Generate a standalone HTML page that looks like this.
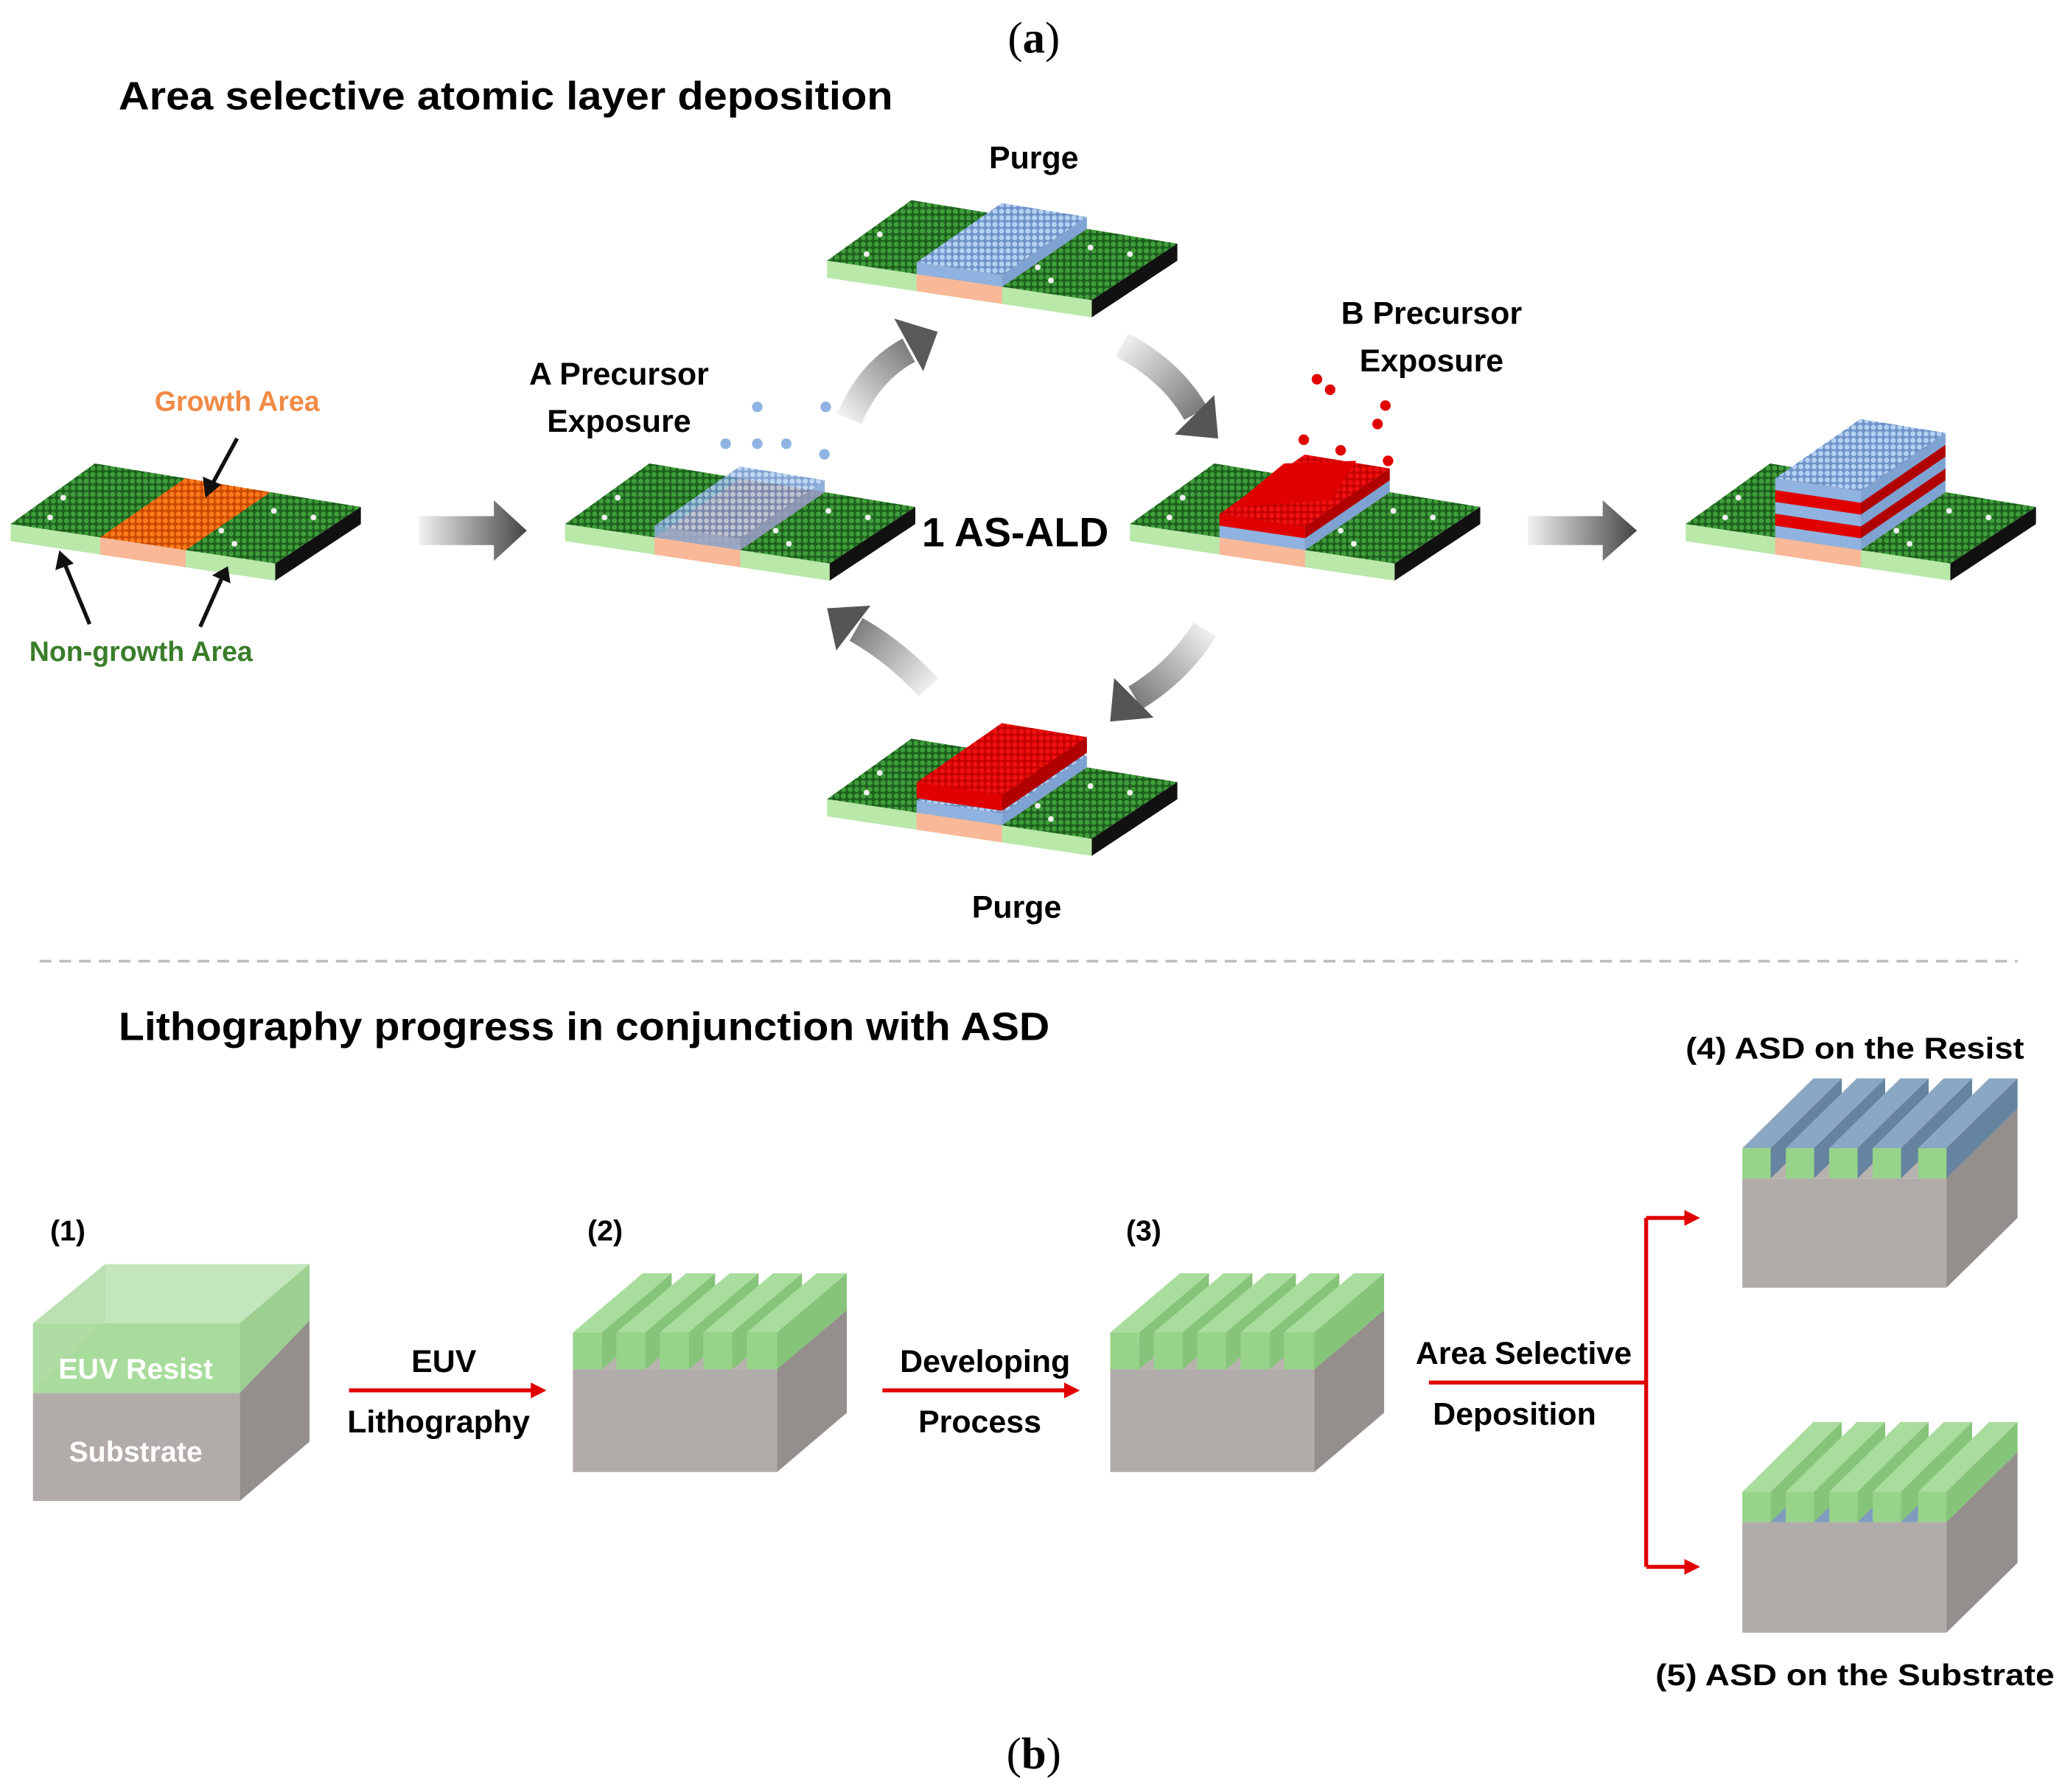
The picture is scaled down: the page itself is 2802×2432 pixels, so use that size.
<!DOCTYPE html>
<html><head><meta charset="utf-8">
<style>
html,body{margin:0;padding:0;background:#fff;}
svg{display:block;}
text{font-family:"Liberation Sans",sans-serif;font-weight:bold;}
</style></head>
<body>
<svg width="2802" height="2432" viewBox="0 0 1568 1361" xmlns="http://www.w3.org/2000/svg">
<defs>
 <pattern id="gr" width="5" height="5" patternUnits="userSpaceOnUse">
  <rect width="5" height="5" fill="#1d5f1d"/><circle cx="2.5" cy="2.5" r="2" fill="#3f9d3a"/>
 </pattern>
 <pattern id="or" width="5" height="5" patternUnits="userSpaceOnUse">
  <rect width="5" height="5" fill="#c94a00"/><circle cx="2.5" cy="2.5" r="2" fill="#ff7a1c"/>
 </pattern>
 <pattern id="bl" width="5" height="5" patternUnits="userSpaceOnUse">
  <rect width="5" height="5" fill="#6f93c8"/><circle cx="2.5" cy="2.5" r="2" fill="#b3d0f2"/>
 </pattern>
 <pattern id="rd" width="5" height="5" patternUnits="userSpaceOnUse">
  <rect width="5" height="5" fill="#c40000"/><circle cx="2.5" cy="2.5" r="2" fill="#f01010"/>
 </pattern>
 <g id="slab">
  <polygon points="0,0 64,-46 266,-13 201,30" fill="url(#gr)"/>
  <polygon points="68,10.2 133,19.8 197.3,-24.2 132.7,-34.8" fill="url(#or)"/>
  <polygon points="0,0 201,30 201,43 0,13" fill="#b9e8a9"/>
  <polygon points="68,10.2 133,19.8 133,32.8 68,23.2" fill="#f9b898"/>
  <polygon points="201,30 266,-13 266,0 201,43" fill="#111"/>
  <circle cx="40" cy="-20" r="2.2" fill="#eee"/><circle cx="30" cy="-5" r="2.2" fill="#eee"/>
  <circle cx="160" cy="5" r="2.2" fill="#eee"/><circle cx="200" cy="-10" r="2.2" fill="#eee"/>
  <circle cx="170" cy="15" r="2.2" fill="#eee"/><circle cx="230" cy="-5" r="2.2" fill="#eee"/>
 </g>
 <g id="layB">
  <polygon points="68,1.2 133,10.8 197.3,-33.2 132.7,-43.8" fill="url(#bl)"/>
  <polygon points="68,10.2 133,19.8 133,10.8 68,1.2" fill="#8fb2e0"/>
  <polygon points="133,19.8 197.3,-24.2 197.3,-33.2 133,10.8" fill="#7ea2d2"/>
 </g>
 <g id="layR">
  <polygon points="68,1.2 133,10.8 197.3,-33.2 132.7,-43.8" fill="url(#rd)"/>
  <polygon points="68,10.2 133,19.8 133,10.8 68,1.2" fill="#e00000"/>
  <polygon points="133,19.8 197.3,-24.2 197.3,-33.2 133,10.8" fill="#b00000"/>
 </g>
 <g id="rgG">
  <polygon points="0,0 54,-53 75.5,-53 21.5,0" fill="#a9dd9d"/>
  <polygon points="21.5,0 75.5,-53 75.5,-30 21.5,23" fill="#86c47a"/>
  <rect x="0" y="0" width="21.5" height="23" fill="#97d48a"/>
 </g>
 <g id="rgB">
  <polygon points="0,0 54,-53 75.5,-53 21.5,0" fill="#8aa7c4"/>
  <polygon points="21.5,0 75.5,-53 75.5,-30 21.5,23" fill="#66849f"/>
  <rect x="0" y="0" width="21.5" height="23" fill="#97d48a"/>
 </g>
 <linearGradient id="ga" x1="0" x2="1" y1="0" y2="0">
  <stop offset="0" stop-color="#f2f2f2"/><stop offset="1" stop-color="#444"/>
 </linearGradient>
 <linearGradient id="c1" gradientUnits="userSpaceOnUse" x1="645" y1="318" x2="712" y2="252"><stop offset="0" stop-color="#eee"/><stop offset="1" stop-color="#555"/></linearGradient>
 <linearGradient id="c2" gradientUnits="userSpaceOnUse" x1="852" y1="262" x2="925" y2="333"><stop offset="0" stop-color="#eee"/><stop offset="1" stop-color="#555"/></linearGradient>
 <linearGradient id="c3" gradientUnits="userSpaceOnUse" x1="915" y1="478" x2="843" y2="548"><stop offset="0" stop-color="#eee"/><stop offset="1" stop-color="#555"/></linearGradient>
 <linearGradient id="c4" gradientUnits="userSpaceOnUse" x1="705" y1="522" x2="628" y2="462"><stop offset="0" stop-color="#eee"/><stop offset="1" stop-color="#555"/></linearGradient>
</defs>

<text x="785" y="40" text-anchor="middle" style="font-family:'Liberation Serif',serif;font-weight:normal" font-size="34">(<tspan font-weight="bold">a</tspan>)</text>
<text x="90" y="83" font-size="30" textLength="588" lengthAdjust="spacingAndGlyphs">Area selective atomic layer deposition</text>

<use href="#slab" transform="translate(8,398)"/>
<use href="#slab" transform="translate(429,398)"/>
<use href="#layB" transform="translate(429,398)" opacity="0.85"/>
<use href="#slab" transform="translate(858,398)"/>
<use href="#layB" transform="translate(858,398)"/>
<use href="#layR" transform="translate(858,389)"/>
<polygon points="935,385 975,352 1030,350 1010,380" fill="#e00000"/>
<use href="#slab" transform="translate(1280,398)"/>
<use href="#layB" transform="translate(1280,398)"/>
<use href="#layR" transform="translate(1280,389)"/>
<use href="#layB" transform="translate(1280,380)"/>
<use href="#layR" transform="translate(1280,371)"/>
<use href="#layB" transform="translate(1280,362)"/>
<use href="#slab" transform="translate(628,198)"/>
<use href="#layB" transform="translate(628,198)"/>
<use href="#slab" transform="translate(628,607)"/>
<use href="#layB" transform="translate(628,607)"/>
<use href="#layR" transform="translate(628,596)"/>
<use href="#layR" transform="translate(628,593)"/>

<g fill="#8fb4e3">
<circle cx="575" cy="309" r="4"/><circle cx="627" cy="309" r="4"/>
<circle cx="551" cy="337" r="4"/><circle cx="575" cy="337" r="4"/><circle cx="597" cy="337" r="4"/><circle cx="626" cy="345" r="4"/>
</g>
<g fill="#e00000">
<circle cx="1000" cy="288" r="4"/><circle cx="1010" cy="296" r="4"/><circle cx="1052" cy="308" r="4"/>
<circle cx="1046" cy="322" r="4"/><circle cx="990" cy="334" r="4"/><circle cx="1018" cy="342" r="4"/><circle cx="1054" cy="350" r="4"/>
</g>

<polygon points="318,392 375,392 375,380 400,403 375,426 375,414 318,414" fill="url(#ga)"/>
<polygon points="1160,392 1217,392 1217,380 1243,403 1217,426 1217,414 1160,414" fill="url(#ga)"/>

<path d="M645,318 Q660,282 690,266" stroke="url(#c1)" stroke-width="20" fill="none"/>
<polygon points="712,252 701,282 679,242" fill="#5a5a5a"/>
<path d="M852,262 Q890,282 908,314" stroke="url(#c2)" stroke-width="20" fill="none"/>
<polygon points="925,333 922,300 892,330" fill="#555"/>
<path d="M915,478 Q895,510 862,530" stroke="url(#c3)" stroke-width="20" fill="none"/>
<polygon points="843,548 876,545 846,515" fill="#555"/>
<path d="M705,522 Q680,495 650,478" stroke="url(#c4)" stroke-width="20" fill="none"/>
<polygon points="628,462 661,460 635,494" fill="#555"/>

<text x="785" y="128" text-anchor="middle" font-size="24">Purge</text>
<text x="772" y="697" text-anchor="middle" font-size="24">Purge</text>
<text x="470" y="292" text-anchor="middle" font-size="24">A Precursor</text>
<text x="470" y="328" text-anchor="middle" font-size="24">Exposure</text>
<text x="1087" y="246" text-anchor="middle" font-size="24">B Precursor</text>
<text x="1087" y="282" text-anchor="middle" font-size="24">Exposure</text>
<text x="700" y="415" font-size="31">1 AS-ALD</text>
<text x="180" y="312" text-anchor="middle" font-size="21" fill="#f08a45">Growth Area</text>
<text x="107" y="502" text-anchor="middle" font-size="21" fill="#3a7d2a">Non-growth Area</text>
<g stroke="#111" stroke-width="3" fill="#111">
<line x1="180" y1="333" x2="161" y2="368"/><polygon points="156,378 154,362 168,368" stroke="none"/>
<line x1="68" y1="474" x2="49" y2="428"/><polygon points="45,418 42,433 56,428" stroke="none"/>
<line x1="152" y1="476" x2="168" y2="440"/><polygon points="173,430 161,437 175,443" stroke="none"/>
</g>

<line x1="30" y1="730" x2="1532" y2="730" stroke="#bdbdbd" stroke-width="2" stroke-dasharray="9,6"/>

<text x="90" y="790" font-size="30" textLength="707" lengthAdjust="spacingAndGlyphs">Lithography progress in conjunction with ASD</text>
<text x="38" y="942" font-size="22">(1)</text>
<text x="446" y="942" font-size="22">(2)</text>
<text x="855" y="942" font-size="22">(3)</text>
<text x="1280" y="804" font-size="23" textLength="257" lengthAdjust="spacingAndGlyphs">(4) ASD on the Resist</text>
<text x="1257" y="1280" font-size="23" textLength="303" lengthAdjust="spacingAndGlyphs">(5) ASD on the Substrate</text>

<!-- block 1 -->
<polygon points="25,1005 80,960 235,960 182,1005" fill="#c3e6bc"/>
<rect x="25" y="1005" width="157" height="53" fill="#a8dc9c"/>
<rect x="25" y="1058" width="157" height="82" fill="#b1aca9"/>
<polygon points="182,1005 235,960 235,1003 182,1058" fill="#9ccf90"/>
<polygon points="182,1058 235,1003 235,1095 182,1140" fill="#948f8c"/>
<polygon points="25,1005 80,960 80,1003 25,1058" fill="#b4dca9" opacity="0.5"/>
<text x="103" y="1047" text-anchor="middle" font-size="22" fill="#fff">EUV Resist</text>
<text x="103" y="1110" text-anchor="middle" font-size="22" fill="#fff">Substrate</text>

<!-- block 2 -->
<g id="blk">
<polygon points="435,1040 488,995 643,995 590,1040" fill="#b8b2ae"/>
<rect x="435" y="1040" width="155" height="78" fill="#b1aca9"/>
<polygon points="590,1040 643,995 643,1073 590,1118" fill="#948f8c"/>
</g>
<g id="rdg">
 <polygon points="435,1012 488,967 510,967 457,1012" fill="#a9dd9d"/><polygon points="457,1012 510,967 510,995 457,1040" fill="#86c47a"/><rect x="435" y="1012" width="22" height="28" fill="#97d48a"/>
 <polygon points="468,1012 521,967 543,967 490,1012" fill="#a9dd9d"/><polygon points="490,1012 543,967 543,995 490,1040" fill="#86c47a"/><rect x="468" y="1012" width="22" height="28" fill="#97d48a"/>
 <polygon points="501,1012 554,967 576,967 523,1012" fill="#a9dd9d"/><polygon points="523,1012 576,967 576,995 523,1040" fill="#86c47a"/><rect x="501" y="1012" width="22" height="28" fill="#97d48a"/>
 <polygon points="534,1012 587,967 609,967 556,1012" fill="#a9dd9d"/><polygon points="556,1012 609,967 609,995 556,1040" fill="#86c47a"/><rect x="534" y="1012" width="22" height="28" fill="#97d48a"/>
 <polygon points="567,1012 620,967 643,967 590,1012" fill="#a9dd9d"/><polygon points="590,1012 643,967 643,995 590,1040" fill="#86c47a"/><rect x="567" y="1012" width="23" height="28" fill="#97d48a"/>
</g>
<use href="#blk" transform="translate(408,0)"/>
<use href="#rdg" transform="translate(408,0)"/>

<!-- block 4 -->
<polygon points="1323,895 1377,842 1532,842 1478,895" fill="#b8b2ae"/>
<rect x="1323" y="895" width="155" height="83" fill="#b1aca9"/>
<polygon points="1478,895 1532,842 1532,925 1478,978" fill="#948f8c"/>
<use href="#rgB" transform="translate(1323,872)"/>
<use href="#rgB" transform="translate(1356,872)"/>
<use href="#rgB" transform="translate(1389,872)"/>
<use href="#rgB" transform="translate(1422,872)"/>
<use href="#rgB" transform="translate(1456.5,872)"/>

<!-- block 5 -->
<polygon points="1323,1156 1377,1103 1532,1103 1478,1156" fill="#b8b2ae"/>
<rect x="1323" y="1156" width="155" height="84" fill="#b1aca9"/>
<polygon points="1478,1156 1532,1103 1532,1187 1478,1240" fill="#948f8c"/>
<g fill="#7f9cc0">
<polygon points="1344,1156 1358,1142 1356,1156"/><polygon points="1377,1156 1391,1142 1389,1156"/>
<polygon points="1410,1156 1424,1142 1422,1156"/><polygon points="1443,1156 1457,1142 1456,1156"/>
<rect x="1344" y="1146" width="12" height="10"/><rect x="1377" y="1146" width="12" height="10"/>
<rect x="1410" y="1146" width="12" height="10"/><rect x="1443" y="1146" width="13" height="10"/>
</g>
<use href="#rgG" transform="translate(1323,1133)"/>
<use href="#rgG" transform="translate(1356,1133)"/>
<use href="#rgG" transform="translate(1389,1133)"/>
<use href="#rgG" transform="translate(1422,1133)"/>
<use href="#rgG" transform="translate(1456.5,1133)"/>

<!-- red arrows -->
<g stroke="#e00000" stroke-width="3" fill="#e00000">
<line x1="265" y1="1056" x2="405" y2="1056"/><polygon points="415,1056 403,1050 403,1062" stroke="none"/>
<line x1="670" y1="1056" x2="810" y2="1056"/><polygon points="820,1056 808,1050 808,1062" stroke="none"/>
<line x1="1085" y1="1050" x2="1250" y2="1050"/>
<line x1="1250" y1="925" x2="1250" y2="1190"/>
<line x1="1250" y1="925" x2="1280" y2="925"/><polygon points="1291,925 1279,919 1279,931" stroke="none"/>
<line x1="1250" y1="1190" x2="1280" y2="1190"/><polygon points="1291,1190 1279,1184 1279,1196" stroke="none"/>
</g>
<text x="337" y="1042" text-anchor="middle" font-size="24">EUV</text>
<text x="333" y="1088" text-anchor="middle" font-size="24">Lithography</text>
<text x="748" y="1042" text-anchor="middle" font-size="24">Developing</text>
<text x="744" y="1088" text-anchor="middle" font-size="24">Process</text>
<text x="1157" y="1036" text-anchor="middle" font-size="24">Area Selective</text>
<text x="1150" y="1082" text-anchor="middle" font-size="24">Deposition</text>

<text x="785" y="1343" text-anchor="middle" style="font-family:'Liberation Serif',serif;font-weight:normal" font-size="34">(<tspan font-weight="bold">b</tspan>)</text>
</svg>
</body></html>
